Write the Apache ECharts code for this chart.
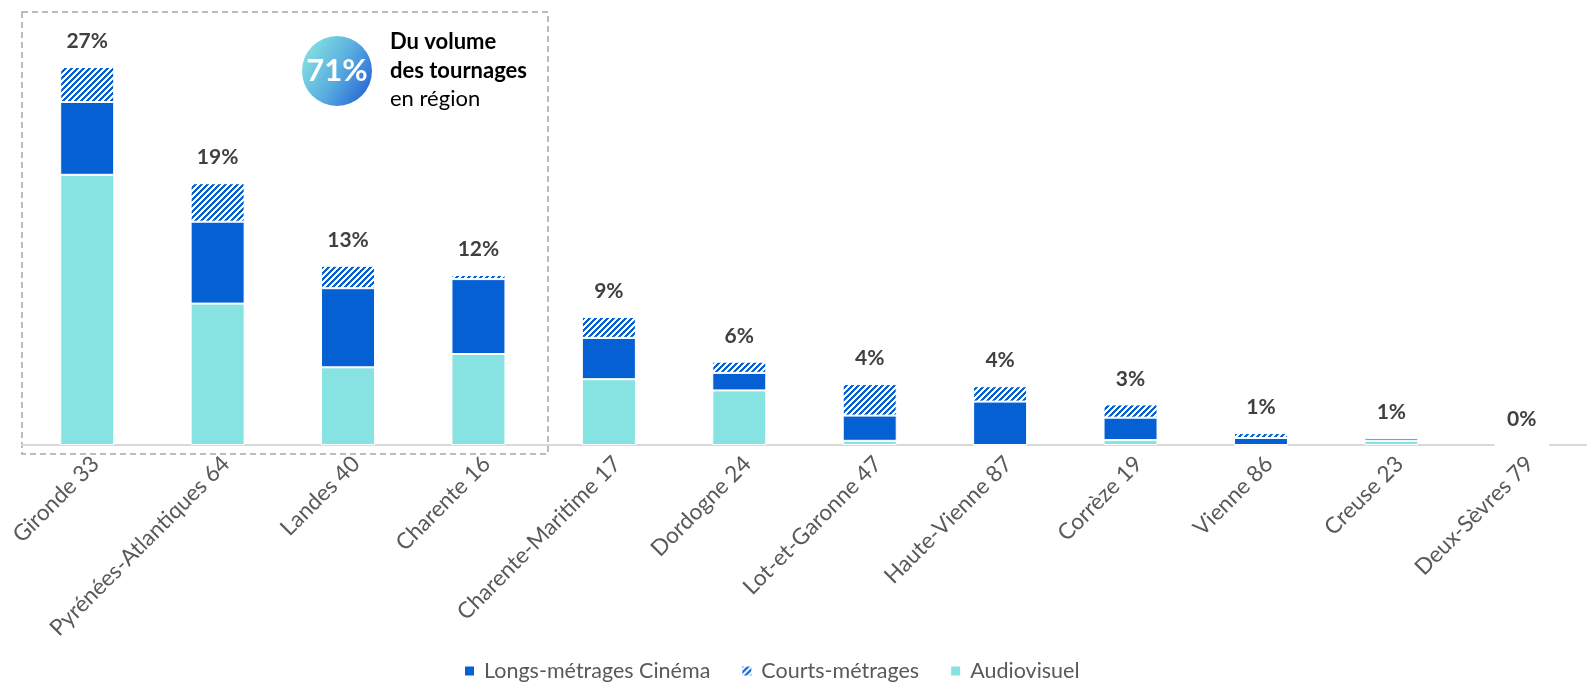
<!DOCTYPE html>
<html>
<head>
<meta charset="utf-8">
<script src="https://cdn.jsdelivr.net/npm/echarts@6/dist/echarts.min.js"></script>
<style>
html,body{margin:0;padding:0;background:#fff;}
#chart{width:1587px;height:683px;}
</style>
</head>
<body>
<div id="chart"></div>
<script>
// ---- data ----
const categories = ['Gironde 33','Pyrénées-Atlantiques 64','Landes 40','Charente 16','Charente-Maritime 17','Dordogne 24','Lot-et-Garonne 47','Haute-Vienne 87','Corrèze 19','Vienne 86','Creuse 23','Deux-Sèvres 79'];
const audiovisuel = [19.3, 10.1, 5.55, 6.5, 4.7, 3.9, 0.3, 0, 0.35, 0, 0.3, 0];
const longsMetrages = [5.2, 5.85, 5.65, 5.35, 2.95, 1.25, 1.8, 3.1, 1.6, 0.5, 0.18, 0];
const courtsMetrages = [2.5, 2.75, 1.6, 0.3, 1.5, 0.8, 2.25, 1.1, 0.95, 0.35, 0.05, 0];
const pctLabels = ['27%','19%','13%','12%','9%','6%','4%','4%','3%','1%','1%','0%'];
const seriesNames = ['Longs-métrages Cinéma','Courts-métrages','Audiovisuel'];

const BLUE = '#0560D4';
const CYAN = '#86E3E1';
const FONT = 'Lato, "Open Sans", sans-serif';

// hatch pattern
const tile = document.createElement('canvas');
tile.width = 6; tile.height = 6;
const tctx = tile.getContext('2d');
tctx.fillStyle = '#ffffff';
tctx.fillRect(0,0,6,6);
tctx.fillStyle = BLUE;
for (let x = 0; x < 6; x++) {
  for (let y = 0; y < 6; y++) {
    if (((x + y) % 6) < 3) tctx.fillRect(x, y, 1, 1);
  }
}

const chart = echarts.init(document.getElementById('chart'), null, {renderer:'canvas'});

const option = {
  backgroundColor: '#ffffff',
  animation: false,
  grid: {left: 22, right: 0, top: 25, bottom: 238, containLabel: false},
  xAxis: {
    type: 'category',
    data: categories,
    axisTick: {show: false},
    axisLine: {lineStyle: {color: '#d9d9d9', width: 2}},
    axisLabel: {rotate: 45, fontSize: 22.5, color: '#595959', fontFamily: FONT, margin: 7, verticalAlign: 'top', interval: 0}
  },
  yAxis: {type: 'value', min: 0, max: 30, show: false, splitLine: {show: false}},
  legend: {
    left: 458, top: 655,
    itemWidth: 11, itemHeight: 11, itemGap: 30,
    icon: 'rect',
    textStyle: {fontSize: 21.5, color: '#595959', fontFamily: FONT, padding: [0, 0, 0, 4]},
    data: seriesNames
  },
  series: [
    {
      name: 'Audiovisuel', type: 'bar', stack: 'total', barWidth: 54,
      data: audiovisuel,
      itemStyle: {color: CYAN, borderColor: '#ffffff', borderWidth: 1}
    },
    {
      name: 'Longs-métrages Cinéma', type: 'bar', stack: 'total', barWidth: 54,
      data: longsMetrages,
      itemStyle: {color: BLUE, borderColor: '#ffffff', borderWidth: 1}
    },
    {
      name: 'Courts-métrages', type: 'bar', stack: 'total', barWidth: 54,
      data: courtsMetrages,
      itemStyle: {color: {image: tile, repeat: 'repeat'}, borderColor: '#ffffff', borderWidth: 1},
      label: {
        show: true, position: 'top', distance: 15,
        fontSize: 21, fontWeight: 'bold', color: '#404040', fontFamily: FONT,
        formatter: p => pctLabels[p.dataIndex]
      }
    }
  ],
  graphic: [
    {
      type: 'rect', silent: true,
      shape: {x: 22, y: 12, width: 526, height: 442},
      style: {fill: 'none', stroke: '#a6a6a6', lineWidth: 1.5, lineDash: [6, 4]}
    },
    {
      type: 'circle',
      shape: {cx: 337, cy: 71, r: 35},
      style: {fill: new echarts.graphic.LinearGradient(0, 0.2, 1, 0.8, [
        {offset: 0, color: '#86e3e1'},
        {offset: 0.5, color: '#5bb0e0'},
        {offset: 1, color: '#2664d6'}
      ])}
    },
    {
      type: 'text', x: 337, y: 71,
      style: {text: '71%', fill: '#ffffff', font: 'bold 31px ' + FONT, align: 'center', verticalAlign: 'middle'}
    },
    {
      type: 'text', x: 390, y: 42,
      style: {text: 'Du volume', fill: '#000000', font: 'bold 22px ' + FONT, verticalAlign: 'middle'}
    },
    {
      type: 'text', x: 390, y: 71,
      style: {text: 'des tournages', fill: '#000000', font: 'bold 22px ' + FONT, verticalAlign: 'middle'}
    },
    {
      type: 'text', x: 390, y: 99,
      style: {text: 'en région', fill: '#000000', font: '22px ' + FONT, verticalAlign: 'middle'}
    }
  ]
};
chart.setOption(option);
</script>
</body>
</html>
